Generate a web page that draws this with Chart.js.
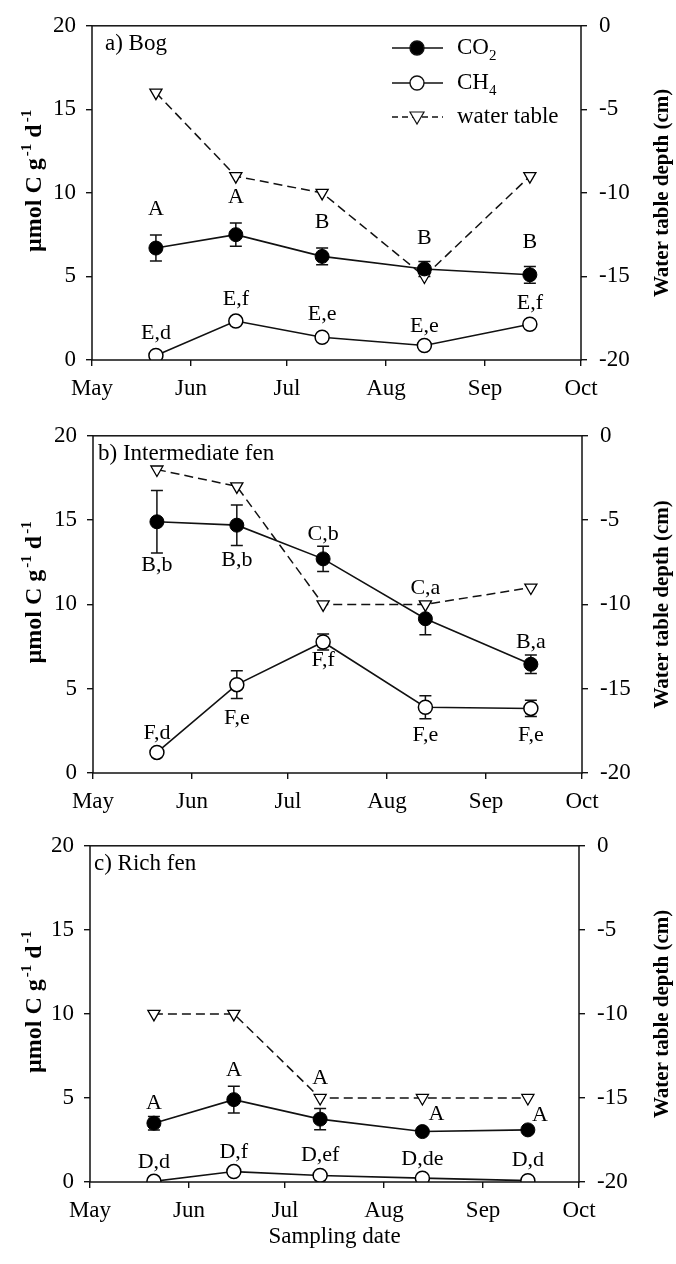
<!DOCTYPE html>
<html lang="en">
<head>
  <meta charset="UTF-8">
  <title>CO2, CH4 and water table – Bog, intermediate fen, rich fen</title>
  <script src="https://cdn.jsdelivr.net/npm/chart.js"></script>
  <style>
    body { margin: 0; background: #fff; }
    #wrap { position: relative; width: 676px; height: 1264px; }
    canvas { position: absolute; left: 0; }
  </style>
</head>
<body>
<div id="wrap">
  <canvas id="bog" width="676" height="410" style="top:0px"></canvas>
  <canvas id="intfen" width="676" height="410" style="top:410px"></canvas>
  <canvas id="richfen" width="676" height="444" style="top:820px"></canvas>
</div>
<script>
  // x axis: days after 1 May
  const monthDays = [0, 31, 61, 92, 123, 153];
  const monthLabels = ['May', 'Jun', 'Jul', 'Aug', 'Sep', 'Oct'];
  const sampleDays = [20, 45, 72, 104, 137];

  // a) Bog
  const bogCO2 = [6.7, 7.5, 6.2, 5.45, 5.1];
  const bogCO2Err = [0.78, 0.7, 0.5, 0.45, 0.5];
  const bogCH4 = [0.27, 2.33, 1.36, 0.87, 2.14];
  const bogCH4Err = [0, 0, 0, 0, 0];
  const bogWater = [-4, -9, -10, -15, -9];
  const bogCO2Letters = ['A', 'A', 'B', 'B', 'B'];
  const bogCH4Letters = ['E,d', 'E,f', 'E,e', 'E,e', 'E,f'];

  // b) Intermediate fen
  const intCO2 = [14.9, 14.7, 12.7, 9.15, 6.45];
  const intCO2Err = [1.85, 1.2, 0.75, 0.95, 0.55];
  const intCH4 = [1.22, 5.24, 7.77, 3.9, 3.83];
  const intCH4Err = [0, 0.82, 0.48, 0.68, 0.48];
  const intWater = [-2, -3, -10, -10, -9];
  const intCO2Letters = ['B,b', 'B,b', 'C,b', 'C,a', 'B,a'];
  const intCH4Letters = ['F,d', 'F,e', 'F,f', 'F,e', 'F,e'];

  // c) Rich fen
  const richCO2 = [3.5, 4.9, 3.74, 3.0, 3.1];
  const richCO2Err = [0.4, 0.8, 0.63, 0, 0];
  const richCH4 = [0.04, 0.62, 0.39, 0.23, 0.08];
  const richCH4Err = [0, 0, 0, 0, 0];
  const richWater = [-10, -10, -15, -15, -15];
  const richCO2Letters = ['A', 'A', 'A', 'A', 'A'];
  const richCH4Letters = ['D,d', 'D,f', 'D,ef', 'D,de', 'D,d'];

  const SERIF = "'Liberation Serif', 'Times New Roman', serif";
  Chart.defaults.font.family = SERIF;
  Chart.defaults.font.size = 23;
  Chart.defaults.color = '#000';

  const xy = vals => vals.map((v, i) => ({ x: sampleDays[i], y: v }));

  // draws error bars, frame, letters, legend and axis titles
  function decor(p) {
    return {
      id: 'decor_' + p.id,
      beforeDatasetsDraw(chart) {
        const ctx = chart.ctx, xs = chart.scales.x, ys = chart.scales.y;
        ctx.save();
        ctx.strokeStyle = '#111';
        ctx.lineWidth = 1.5;
        [[p.co2, p.co2Err], [p.ch4, p.ch4Err]].forEach(([vals, errs]) => {
          vals.forEach((v, i) => {
            if (!errs[i]) return;
            const x = xs.getPixelForValue(sampleDays[i]);
            const y1 = ys.getPixelForValue(v + errs[i]);
            const y2 = ys.getPixelForValue(v - errs[i]);
            ctx.beginPath();
            ctx.moveTo(x, y1); ctx.lineTo(x, y2);
            ctx.moveTo(x - 6, y1); ctx.lineTo(x + 6, y1);
            ctx.moveTo(x - 6, y2); ctx.lineTo(x + 6, y2);
            ctx.stroke();
          });
        });
        ctx.restore();
      },
      afterDatasetsDraw(chart) {
        const ctx = chart.ctx, a = chart.chartArea;
        const xs = chart.scales.x, ys = chart.scales.y;
        ctx.save();
        // frame
        ctx.strokeStyle = '#111';
        ctx.lineWidth = 1.5;
        ctx.strokeRect(a.left, a.top, a.right - a.left, a.bottom - a.top);

        // letters
        ctx.fillStyle = '#000';
        ctx.font = '22px ' + SERIF;
        ctx.textAlign = 'center';
        ctx.textBaseline = 'middle';
        const letters = (vals, labels, dy, dx) => vals.forEach((v, i) => {
          const x = xs.getPixelForValue(sampleDays[i]) + (dx ? dx[i] : 0);
          const y = ys.getPixelForValue(v) + dy[i];
          ctx.fillText(labels[i], x, y);
        });
        letters(p.co2, p.co2Letters, p.co2Dy, p.co2Dx);
        letters(p.ch4, p.ch4Letters, p.ch4Dy);

        // panel label
        ctx.textAlign = 'left';
        ctx.textBaseline = 'alphabetic';
        ctx.font = '23px ' + SERIF;
        ctx.fillText(p.title, a.left + p.titleDx, a.top + 24);

        // legend (panel a only)
        if (p.legend) drawLegend(ctx);

        // left axis title with superscripts
        const cy = (a.top + a.bottom) / 2;
        const parts = [['\u00b5mol C g', 0], ['-1', 1], [' d', 0], ['-1', 1]];
        const big = 'bold 24px ' + SERIF, small = 'bold 15px ' + SERIF;
        let total = 0;
        parts.forEach(([t, sup]) => { ctx.font = sup ? small : big; total += ctx.measureText(t).width + (sup ? 2 : 0); });
        ctx.save();
        ctx.translate(41, cy - 12);
        ctx.rotate(-Math.PI / 2);
        let pos = -total / 2;
        parts.forEach(([t, sup]) => {
          ctx.font = sup ? small : big;
          ctx.fillText(t, pos + (sup ? 2 : 0), sup ? -10 : 0);
          pos += ctx.measureText(t).width + (sup ? 2 : 0);
        });
        ctx.restore();

        // right axis title
        ctx.save();
        ctx.translate(668, cy);
        ctx.rotate(-Math.PI / 2);
        ctx.font = 'bold 21px ' + SERIF;
        ctx.textAlign = 'center';
        ctx.fillText('Water table depth (cm)', 0, 0);
        ctx.restore();

        // x axis title (bottom panel)
        if (p.xTitle) {
          ctx.font = '23px ' + SERIF;
          ctx.textAlign = 'center';
          ctx.textBaseline = 'middle';
          ctx.fillText(p.xTitle, (a.left + a.right) / 2, chart.height - 27);
        }
        ctx.restore();
      }
    };
  }

  function marker(ctx, style, x, y) {
    ctx.beginPath();
    if (style === 'tri') {
      ctx.moveTo(x - 7, y - 5); ctx.lineTo(x + 7, y - 5); ctx.lineTo(x, y + 7); ctx.closePath();
      ctx.fillStyle = '#fff'; ctx.lineWidth = 1.2;
    } else {
      ctx.arc(x, y, 7, 0, Math.PI * 2);
      ctx.fillStyle = style === 'filled' ? '#000' : '#fff'; ctx.lineWidth = 1.4;
    }
    ctx.fill(); ctx.stroke();
  }

  function drawLegend(ctx) {
    const rows = [
      { y: 48, style: 'filled', dash: [], text: 'CO', sub: '2' },
      { y: 83, style: 'open', dash: [], text: 'CH', sub: '4' },
      { y: 117, style: 'tri', dash: [6, 4], text: 'water table', sub: '' }
    ];
    rows.forEach(r => {
      ctx.save();
      ctx.strokeStyle = '#111';
      ctx.lineWidth = 1.5;
      ctx.setLineDash(r.dash);
      ctx.beginPath(); ctx.moveTo(392, r.y); ctx.lineTo(443, r.y); ctx.stroke();
      ctx.setLineDash([]);
      marker(ctx, r.style, 417, r.y);
      ctx.fillStyle = '#000';
      ctx.textAlign = 'left';
      ctx.textBaseline = 'middle';
      ctx.font = '23px ' + SERIF;
      ctx.fillText(r.text, 457, r.y);
      if (r.sub) {
        const w = ctx.measureText(r.text).width;
        ctx.font = '15px ' + SERIF;
        ctx.fillText(r.sub, 457 + w, r.y + 8);
      }
      ctx.restore();
    });
  }

  const tickGrid = { display: true, drawOnChartArea: false, drawTicks: true, tickLength: 6, color: '#111', lineWidth: 1.4 };

  function makeChart(p) {
    return new Chart(document.getElementById(p.id), {
      type: 'line',
      data: {
        datasets: [
          { label: 'CO2', data: xy(p.co2), yAxisID: 'y', borderColor: '#111', borderWidth: 1.6,
            pointRadius: 7, pointBackgroundColor: '#000', pointBorderColor: '#000', pointBorderWidth: 1, tension: 0 },
          { label: 'CH4', data: xy(p.ch4), yAxisID: 'y', borderColor: '#111', borderWidth: 1.6,
            pointRadius: 7, pointBackgroundColor: '#fff', pointBorderColor: '#000', pointBorderWidth: 1.5, tension: 0 },
          { label: 'water table', data: xy(p.water), yAxisID: 'y2', borderColor: '#111', borderWidth: 1.5,
            borderDash: [9, 5], pointStyle: 'triangle', rotation: 180, pointRadius: 7,
            pointBackgroundColor: '#fff', pointBorderColor: '#000', pointBorderWidth: 1.3, tension: 0 }
        ]
      },
      options: {
        responsive: false,
        animation: false,
        events: [],
        layout: { padding: { top: p.padTop, left: 0, right: 0, bottom: 0 } },
        plugins: { legend: { display: false }, tooltip: { enabled: false } },
        scales: {
          x: {
            type: 'linear', min: 0, max: 153,
            afterBuildTicks: s => { s.ticks = monthDays.map(v => ({ value: v })); },
            ticks: { callback: v => monthLabels[monthDays.indexOf(v)], padding: 9, maxRotation: 0, autoSkip: false },
            grid: tickGrid, border: { display: false },
            afterFit: s => { s.height = p.xH; }
          },
          y: {
            position: 'left', min: 0, max: 20,
            ticks: { stepSize: 5, padding: 10, callback: v => String(v) },
            grid: tickGrid, border: { display: false },
            afterFit: s => { s.width = p.leftW; }
          },
          y2: {
            position: 'right', min: -20, max: 0,
            ticks: { stepSize: 5, padding: 12, callback: v => String(v) },
            grid: tickGrid, border: { display: false },
            afterFit: s => { s.width = p.rightW; }
          }
        }
      },
      plugins: [decor(p)]
    });
  }

  makeChart({
    id: 'bog', title: 'a) Bog', titleDx: 13, legend: true,
    padTop: 19, xH: 50, leftW: 92, rightW: 95,
    co2: bogCO2, co2Err: bogCO2Err, ch4: bogCH4, ch4Err: bogCH4Err, water: bogWater,
    co2Letters: bogCO2Letters, ch4Letters: bogCH4Letters,
    co2Dy: [-39, -37, -34, -31, -33], ch4Dy: [-22, -22, -23, -19, -21]
  });

  makeChart({
    id: 'intfen', title: 'b) Intermediate fen', titleDx: 5,
    padTop: 20, xH: 47, leftW: 93, rightW: 94,
    co2: intCO2, co2Err: intCO2Err, ch4: intCH4, ch4Err: intCH4Err, water: intWater,
    co2Letters: intCO2Letters, ch4Letters: intCH4Letters,
    co2Dy: [43, 35, -25, -31, -22], ch4Dy: [-19, 34, 18, 28, 27]
  });

  makeChart({
    id: 'richfen', title: 'c) Rich fen', titleDx: 4, xTitle: 'Sampling date',
    padTop: 23, xH: 82, leftW: 90, rightW: 97,
    co2: richCO2, co2Err: richCO2Err, ch4: richCH4, ch4Err: richCH4Err, water: richWater,
    co2Letters: richCO2Letters, ch4Letters: richCH4Letters,
    co2Dy: [-20, -29, -41, -17, -15], co2Dx: [0, 0, 0, 14, 12], ch4Dy: [-19, -19, -20, -19, -20]
  });
</script>
</body>
</html>
